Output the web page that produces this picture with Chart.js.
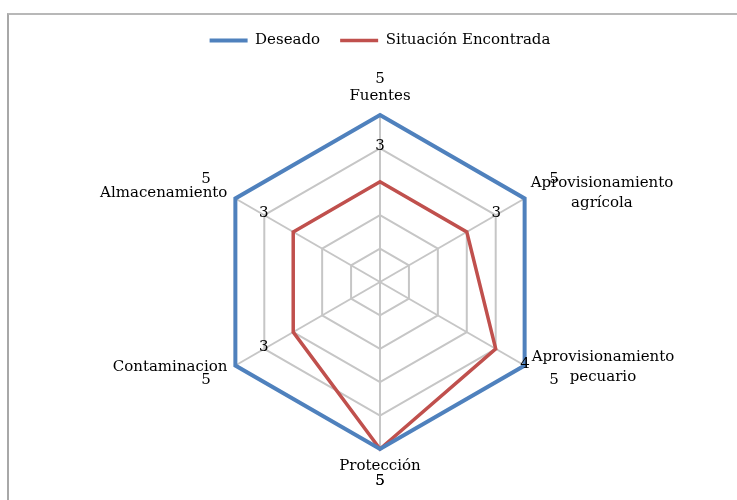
<!DOCTYPE html>
<html>
<head>
<meta charset="utf-8">
<script src="https://cdn.jsdelivr.net/npm/chart.js@4"></script>
<style>
  body { margin: 0; background: #fff; overflow: hidden; }
  #frame { position: absolute; left: 7px; top: 13px; width: 800px; height: 560px;
           border-top: 2px solid #b8b8b8; border-left: 2px solid #a8a8a8; }
  #wrap { position: absolute; left: 0; top: 0; width: 737px; height: 500px; }
</style>
</head>
<body>
<div id="frame"></div>
<div id="wrap"><canvas id="radar"></canvas></div>
<script>
// ejes del radar y valores
const categories = ['Fuentes', ['Aprovisionamiento', 'agrícola'], ['Aprovisionamiento', 'pecuario'],
                    'Protección', 'Contaminacion', 'Almacenamiento'];
const deseado = [5, 5, 5, 5, 5, 5];
const encontrada = [3, 3, 4, 5, 3, 3];
const scaleMin = 0;
const scaleMax = 5;

const serif = "'DejaVu Serif', serif";

// etiquetas de los ejes, colocadas junto a cada vertice exterior
const axisLabels = {
    id: 'axisLabels',
    afterDraw(chart) {
        const scale = chart.scales.r;
        const ctx = chart.ctx;
        const place = [
            { dx: 0, dy: -19, align: 'center' },
            { dx: 6, dy: -5, align: 'left' },
            { dx: 7, dy: 2, align: 'left' },
            { dx: 0, dy: 17, align: 'center' },
            { dx: -8, dy: 2, align: 'right' },
            { dx: -8, dy: -5, align: 'right' }
        ];
        ctx.save();
        ctx.font = '15px ' + serif;
        ctx.fillStyle = '#000';
        ctx.textBaseline = 'middle';
        chart.data.labels.forEach((lab, i) => {
            const p = scale.getPointPosition(i, scale.drawingArea);
            const lines = Array.isArray(lab) ? lab : [lab];
            const pl = place[i];
            const lh = 20;
            const y0 = p.y + pl.dy - (lines.length - 1) * lh / 2;
            const maxW = Math.max(...lines.map(l => ctx.measureText(l).width));
            lines.forEach((l, k) => {
                let x = p.x + pl.dx;
                if (pl.align === 'left') { ctx.textAlign = 'center'; x += maxW / 2; }
                else ctx.textAlign = pl.align;
                ctx.fillText(l, x, y0 + k * lh);
            });
        });

        // valores de cada serie, un poco mas afuera de cada punto
        ctx.textAlign = 'center';
        chart.data.datasets.forEach(ds => {
            ds.data.forEach((v, i) => {
                const d = scale.getDistanceFromCenterForValue(v) + 34;
                const p = scale.getPointPosition(i, d);
                ctx.fillText(String(v), p.x, p.y - 2);
            });
        });
        ctx.restore();
    }
};

const ctx = document.getElementById('radar').getContext('2d');
const radarChart = new Chart(ctx, {
    type: 'radar',
    data: {
        labels: categories,
        datasets: [{
            label: 'Deseado',
            data: deseado,
            borderColor: '#4f81bd',
            backgroundColor: '#4f81bd',
            borderWidth: 4,
            fill: false,
            pointRadius: 0
        }, {
            label: 'Situación Encontrada',
            data: encontrada,
            borderColor: '#c0504d',
            backgroundColor: '#c0504d',
            borderWidth: 3.5,
            fill: false,
            pointRadius: 0
        }]
    },
    options: {
        responsive: true,
        maintainAspectRatio: false,
        animation: false,
        layout: { padding: { top: 13, left: 23, right: 0, bottom: 50 } },
        scales: {
            r: {
                min: scaleMin,
                max: scaleMax,
                ticks: { display: false, stepSize: 1 },
                grid: { color: '#c6c6c6', lineWidth: 2 },
                angleLines: { color: '#c6c6c6', lineWidth: 2 },
                pointLabels: { display: false }
            }
        },
        plugins: {
            legend: {
                position: 'top',
                weight: 3000,
                labels: {
                    usePointStyle: true,
                    pointStyle: 'line',
                    pointStyleWidth: 38,
                    padding: 20,
                    color: '#000',
                    font: { family: serif, size: 15 }
                }
            },
            title: {
                display: true,
                text: '',
                font: { size: 1 },
                padding: { top: 0, bottom: 55 }
            },
            tooltip: { enabled: false }
        }
    },
    plugins: [axisLabels]
});
</script>
</body>
</html>
